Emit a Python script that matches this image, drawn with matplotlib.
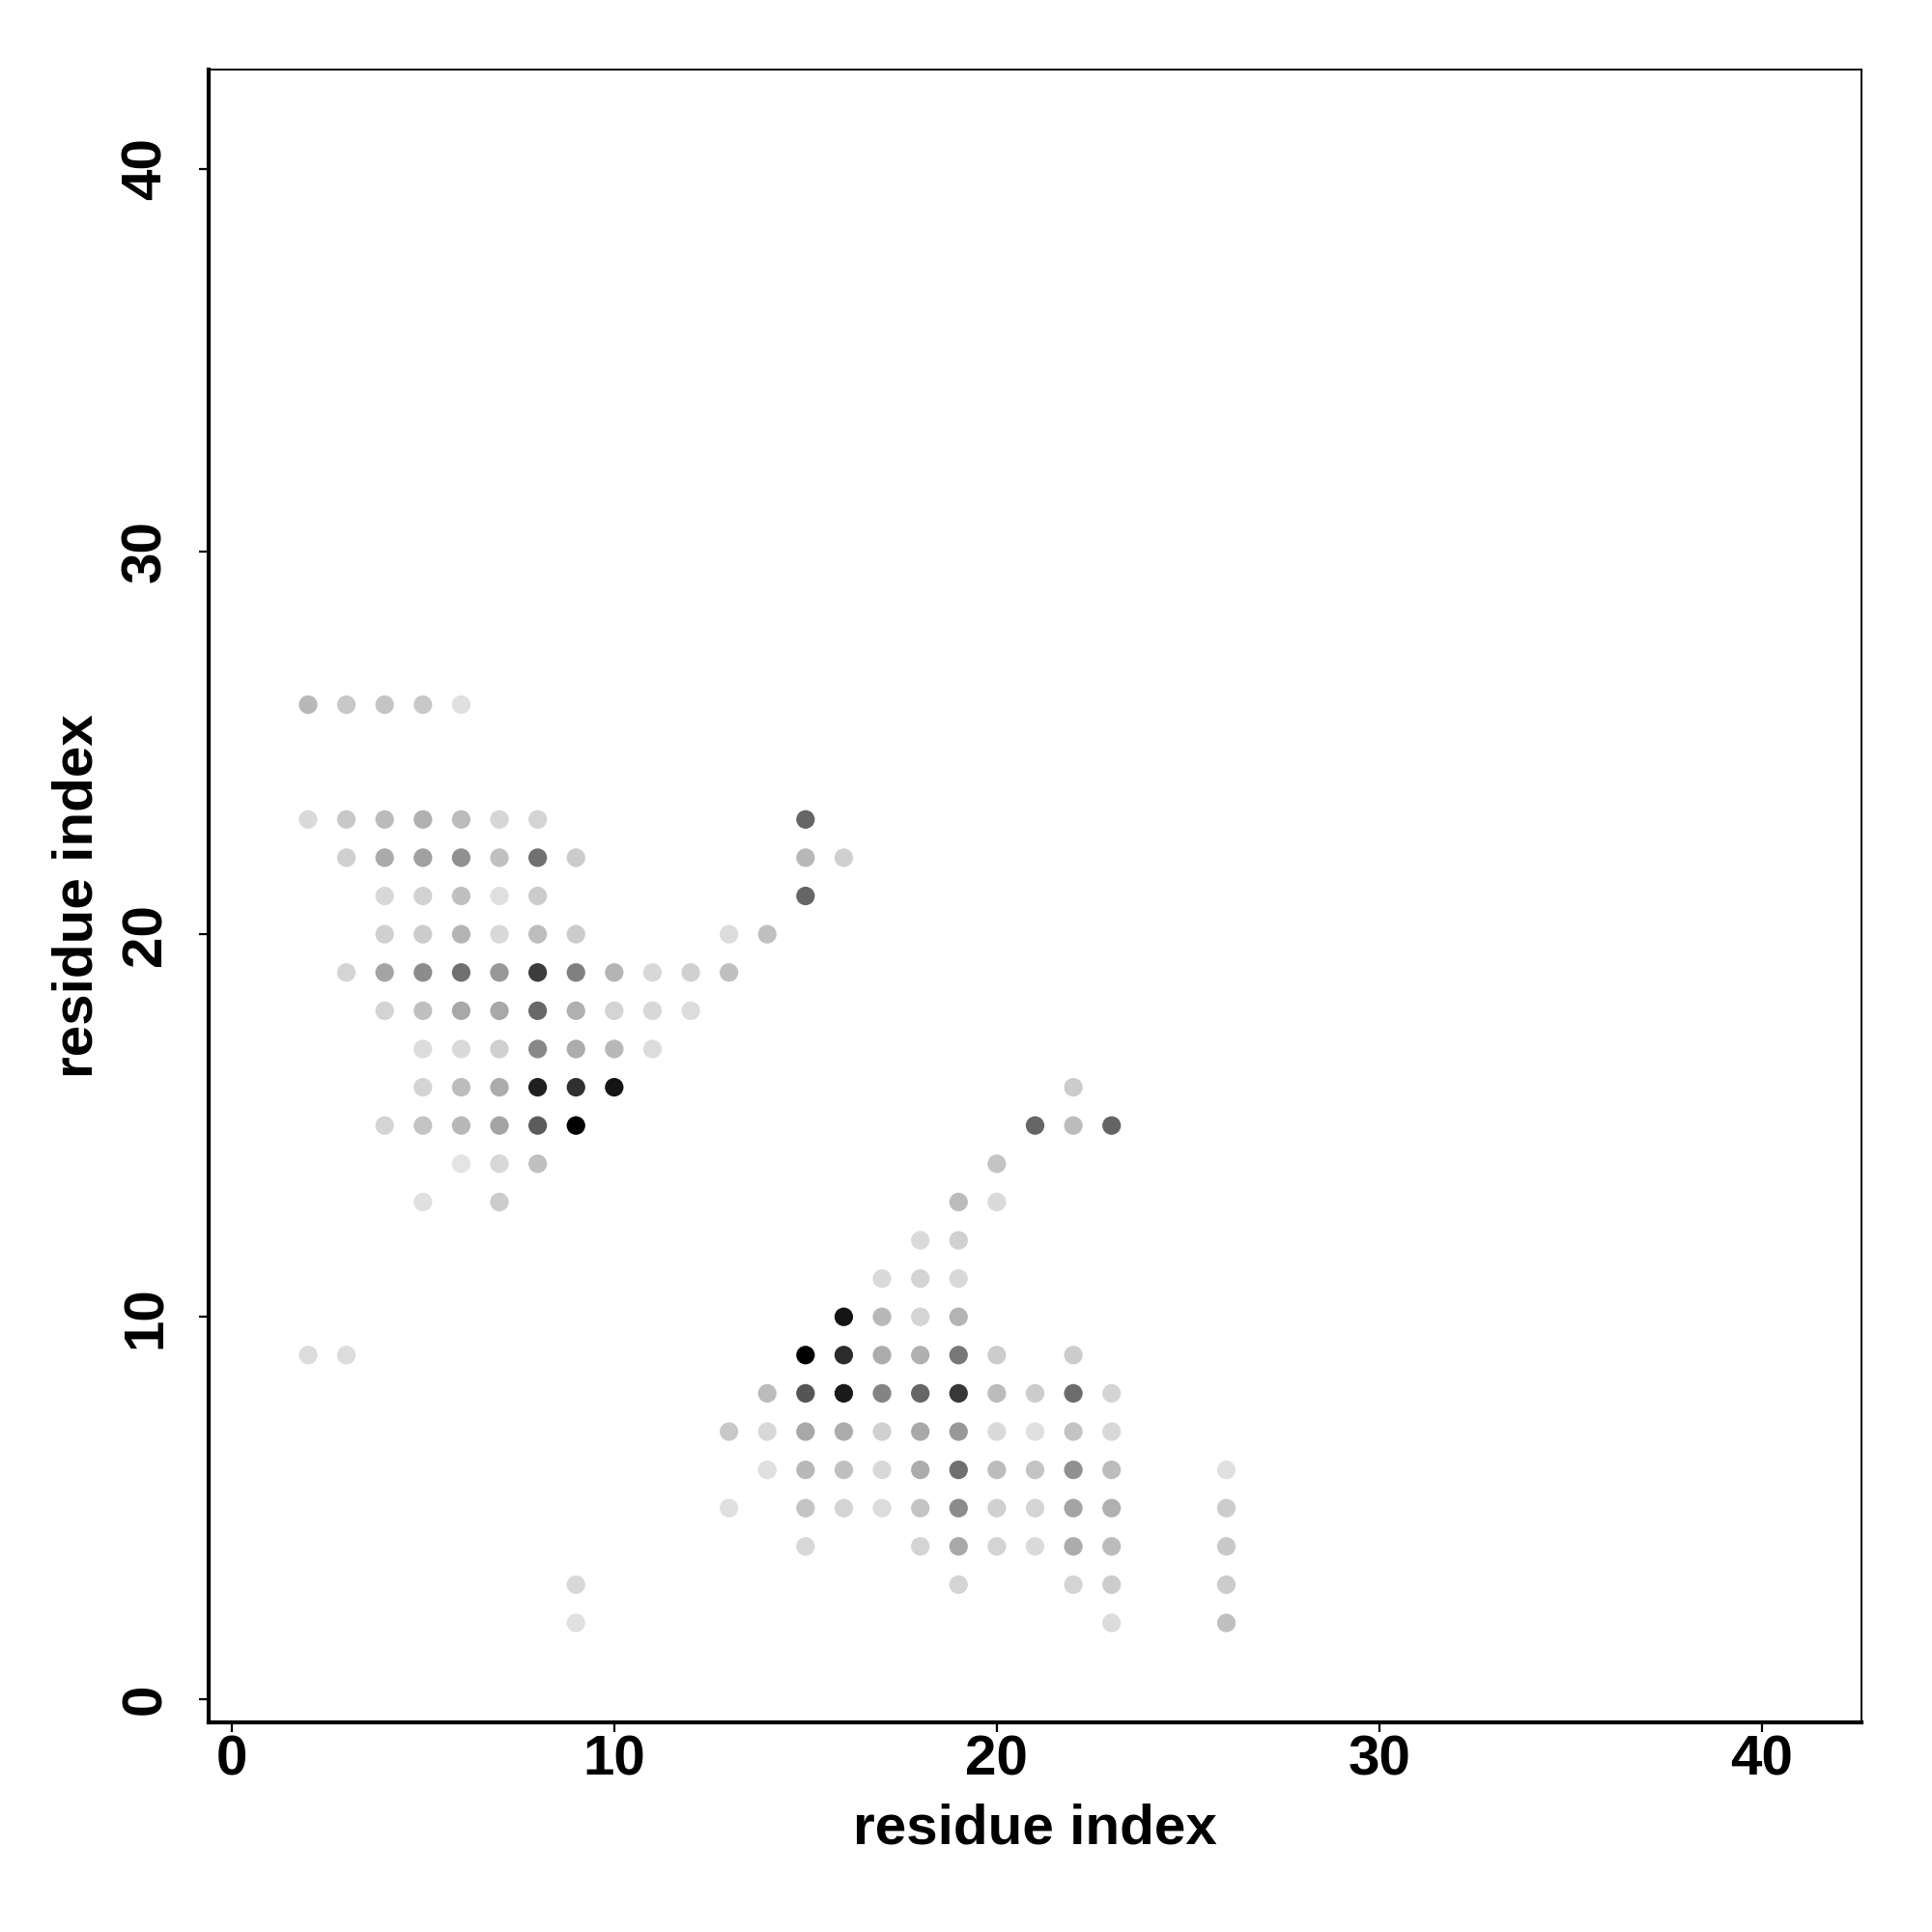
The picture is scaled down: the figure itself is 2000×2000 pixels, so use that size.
import numpy as np
import matplotlib
matplotlib.use("Agg")
import matplotlib.pyplot as plt

plt.rcParams['font.family'] = ['Liberation Sans', 'DejaVu Sans']
plt.rcParams['font.weight'] = 'bold'

# contact map: (i, j) residue pairs and grey level of each dot (0 = black, 255 = white)
res_i = [2, 3, 4, 5, 6,
         2, 3, 4, 5, 6, 7, 8, 15,
         3, 4, 5, 6, 7, 8, 9, 15, 16,
         4, 5, 6, 7, 8, 15,
         4, 5, 6, 7, 8, 9, 13, 14,
         3, 4, 5, 6, 7, 8, 9, 10, 11, 12, 13,
         4, 5, 6, 7, 8, 9, 10, 11, 12,
         5, 6, 7, 8, 9, 10, 11,
         5, 6, 7, 8, 9, 10,
         4, 5, 6, 7, 8, 9,
         6, 7, 8,
         5, 7,
         2, 3, 9, 9,
         22,
         21, 22, 23,
         20,
         19, 20,
         18, 19,
         17, 18, 19,
         16, 17, 18, 19,
         15, 16, 17, 18, 19, 20, 22,
         14, 15, 16, 17, 18, 19, 20, 21, 22, 23,
         13, 14, 15, 16, 17, 18, 19, 20, 21, 22, 23,
         14, 15, 16, 17, 18, 19, 20, 21, 22, 23, 26,
         13, 15, 16, 17, 18, 19, 20, 21, 22, 23, 26,
         15, 18, 19, 20, 21, 22, 23, 26,
         19, 22, 23, 26,
         23, 26]

res_j = [26, 26, 26, 26, 26,
         23, 23, 23, 23, 23, 23, 23, 23,
         22, 22, 22, 22, 22, 22, 22, 22, 22,
         21, 21, 21, 21, 21, 21,
         20, 20, 20, 20, 20, 20, 20, 20,
         19, 19, 19, 19, 19, 19, 19, 19, 19, 19, 19,
         18, 18, 18, 18, 18, 18, 18, 18, 18,
         17, 17, 17, 17, 17, 17, 17,
         16, 16, 16, 16, 16, 16,
         15, 15, 15, 15, 15, 15,
         14, 14, 14,
         13, 13,
         9, 9, 3, 2,
         16,
         15, 15, 15,
         14,
         13, 13,
         12, 12,
         11, 11, 11,
         10, 10, 10, 10,
         9, 9, 9, 9, 9, 9, 9,
         8, 8, 8, 8, 8, 8, 8, 8, 8, 8,
         7, 7, 7, 7, 7, 7, 7, 7, 7, 7, 7,
         6, 6, 6, 6, 6, 6, 6, 6, 6, 6, 6,
         5, 5, 5, 5, 5, 5, 5, 5, 5, 5, 5,
         4, 4, 4, 4, 4, 4, 4, 4,
         3, 3, 3, 3,
         2, 2]

grey = [184, 200, 196, 200, 224,
        218, 200, 187, 176, 188, 214, 212, 102,
        208, 170, 160, 144, 192, 112, 204, 184, 208,
        216, 210, 192, 224, 204, 102,
        208, 204, 180, 216, 189, 204, 220, 192,
        212, 164, 140, 112, 152, 60, 128, 180, 216, 208, 192,
        212, 192, 168, 168, 104, 176, 212, 216, 220,
        220, 218, 208, 136, 172, 184, 220,
        212, 188, 172, 32, 48, 20,
        212, 196, 184, 164, 92, 0,
        228, 216, 192,
        224, 204,
        220, 220, 216, 224,
        204,
        102, 188, 100,
        196,
        188, 218,
        218, 208,
        218, 212, 216,
        20, 184, 212, 180,
        0, 44, 172, 176, 120, 204, 204,
        188, 85, 26, 132, 102, 56, 188, 204, 108, 212,
        200, 216, 168, 172, 208, 168, 152, 218, 224, 196, 216,
        224, 184, 192, 216, 172, 112, 188, 196, 144, 188, 224,
        224, 196, 212, 220, 196, 140, 208, 212, 164, 176, 204,
        216, 212, 168, 212, 218, 172, 188, 200,
        212, 212, 204, 204,
        220, 192]

ticks = [0, 10, 20, 30, 40]

fig = plt.figure(figsize=(10, 10), dpi=200)
ax = fig.add_axes([0.108, 0.1085, 0.8555, 0.8555])

ax.scatter(res_i, res_j, c=grey, cmap='gray', vmin=0, vmax=255, s=48, linewidths=0)

ax.set_xlim(-0.6, 42.6)
ax.set_ylim(-0.6, 42.6)
ax.set_xticks(ticks)
ax.set_yticks(ticks)
ax.tick_params(axis='both', direction='out', length=3.5, width=0.8, labelsize=21)
ax.tick_params(axis='x', pad=1)
ax.tick_params(axis='y', pad=10)
for lab in ax.get_yticklabels():
    lab.set_rotation(90)
    lab.set_va('center')

ax.spines['left'].set_linewidth(1.5)
ax.spines['bottom'].set_linewidth(1.5)
ax.spines['top'].set_linewidth(0.7)
ax.spines['right'].set_linewidth(0.7)

ax.set_xlabel("residue index", fontsize=21, fontweight='bold', labelpad=6)
ax.set_ylabel("residue index", fontsize=21, fontweight='bold', labelpad=6)

plt.savefig("out.png", dpi=200)
